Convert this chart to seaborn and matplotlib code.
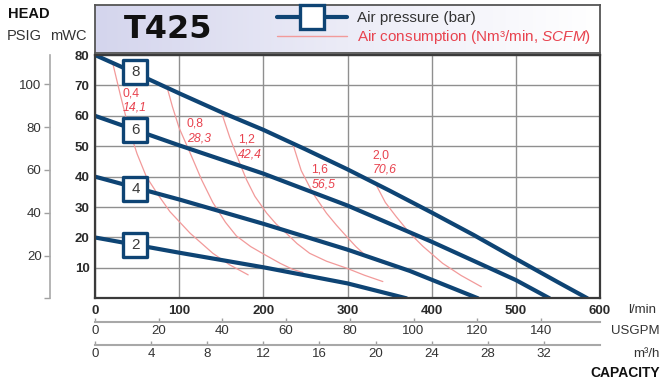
import numpy as np
import pandas as pd
import matplotlib.pyplot as plt
import seaborn as sns
from matplotlib.lines import Line2D
from matplotlib.colors import LinearSegmentedColormap

# ---------------------------
# Data (flow in l/min, head in mWC)
# ---------------------------
pressures = ["2", "4", "6", "8"]
flow_2bar = [0, 100, 200, 300, 370]
head_2bar = [20, 15, 10.2, 4.9, 0]
flow_4bar = [0, 100, 200, 300, 374, 455]
head_4bar = [40, 32.5, 24.5, 16, 9, 0]
flow_6bar = [0, 100, 200, 300, 400, 500, 540]
head_6bar = [60, 50.3, 41, 30.5, 18.6, 6, 0]
flow_8bar = [0, 50, 100, 150, 200, 250, 300, 350, 400, 450, 500, 550, 585]
head_8bar = [80, 73.8, 67.4, 61.2, 55.4, 49, 42.4, 35.4, 28.2, 20.8, 13, 5.3, 0]

# air consumption curves: Nm3/min and SCFM
air_nm3 = ["0,4", "0,8", "1,2", "1,6", "2,0"]
air_scfm = ["14,1", "28,3", "42,4", "56,5", "70,6"]
air_flow_04 = [21.6, 30, 40, 50, 61, 75, 89, 113, 140, 160, 182]
air_head_04 = [76.7, 67, 56, 47.5, 40, 34, 28.5, 21.4, 14.8, 11, 7.7]
air_flow_08 = [85, 92, 100, 112.7, 126.6, 140, 155, 168, 185, 200, 220, 235, 247]
air_head_08 = [70, 63, 56, 48, 39, 31.5, 25, 20.5, 17, 14.6, 11.5, 9.5, 8.5]
air_flow_12 = [150.4, 160, 172, 180, 190, 204, 215, 228, 240, 255, 275, 299, 320, 342]
air_head_12 = [61, 53, 44.4, 39, 33.5, 28, 24.5, 21.2, 18, 14.8, 12.2, 9.9, 7.6, 5.5]
air_flow_16 = [235, 245, 259, 275, 287, 299, 310, 323, 340, 355, 380, 405]
air_head_16 = [50.8, 42, 34.5, 28, 24, 20.3, 17, 13.7, 11.8, 10.6, 8.3, 5.5]
air_flow_20 = [334, 345, 358, 374, 390, 413, 435, 459]
air_head_20 = [37.3, 31.5, 26.8, 21.4, 17, 11.5, 7.5, 3.8]

# axis ticks
lmin_ticks = [0, 100, 200, 300, 400, 500, 600]
mwc_ticks = [10, 20, 30, 40, 50, 60, 70, 80]
psig_ticks = [0, 20, 40, 60, 80, 100]
usgpm_ticks = [0, 20, 40, 60, 80, 100, 120, 140]
m3h_ticks = [0, 4, 8, 12, 16, 20, 24, 28, 32]

# ---------------------------
# Styling
# ---------------------------
BLUE = "#0e4474"
RED_LINE = "#f29a9a"
RED_TEXT = "#e8434f"
GREY_TXT = "#2b2b2b"

sns.set_theme(style="white")
plt.rcParams['font.family'] = ['Liberation Sans', 'DejaVu Sans']
plt.rcParams['mathtext.fontset'] = 'custom'
plt.rcParams['mathtext.rm'] = 'Liberation Sans'
plt.rcParams['mathtext.it'] = 'Liberation Sans:italic'

pump = pd.concat([
    pd.DataFrame({"flow": f, "head": h, "bar": b})
    for b, f, h in zip(pressures,
                       [flow_2bar, flow_4bar, flow_6bar, flow_8bar],
                       [head_2bar, head_4bar, head_6bar, head_8bar])
])
air = pd.concat([
    pd.DataFrame({"flow": f, "head": h, "air": a})
    for a, f, h in zip(air_nm3,
                       [air_flow_04, air_flow_08, air_flow_12, air_flow_16, air_flow_20],
                       [air_head_04, air_head_08, air_head_12, air_head_16, air_head_20])
])

fig = plt.figure(figsize=(6.63, 3.85), dpi=100)
ax = fig.add_axes([95 / 663, 1 - 298.3 / 385, 505 / 663, 243.3 / 385])

sns.lineplot(data=air, x="flow", y="head", units="air", estimator=None, sort=False,
             color=RED_LINE, lw=0.9, ax=ax, legend=False)
sns.lineplot(data=pump, x="flow", y="head", units="bar", estimator=None, sort=False,
             color=BLUE, lw=3, ax=ax, legend=False)

ax.set_xlim(0, 600)
ax.set_ylim(0, 80)
ax.set_xticks(lmin_ticks)
ax.set_yticks(mwc_ticks)
ax.set_xlabel("")
ax.set_ylabel("")
ax.grid(True, color="#8f8f8f", lw=1.0)
ax.set_axisbelow(True)
ax.tick_params(axis="both", length=0, labelsize=9.5, labelcolor=GREY_TXT)
ax.tick_params(axis="x", pad=5)
ax.tick_params(axis="y", pad=4)
plt.setp(ax.get_xticklabels() + ax.get_yticklabels(), fontweight="bold")
for s in ax.spines.values():
    s.set_color("#3a3a3a")
    s.set_linewidth(1.6)

# pressure boxes
box_flow = [48, 48, 48, 48]
box_head = [17.5, 36.1, 55.4, 74.5]
ax.scatter(box_flow, box_head, marker="s", s=300, facecolor="white",
           edgecolor=BLUE, linewidth=2.4, zorder=5)
for x, y, p in zip(box_flow, box_head, pressures):
    ax.text(x, y, p, ha="center", va="center", fontsize=11, color="#3a3a3a", zorder=6)

# air consumption labels
lab_flow = [33, 109, 170, 257, 330]
lab_head = [67.5, 57.5, 52.2, 42.2, 47.1]
for x, y, a, c in zip(lab_flow, lab_head, air_nm3, air_scfm):
    ax.text(x, y, a, color=RED_TEXT, fontsize=8.8, va="center", ha="left")
    ax.text(x, y - 4.9, c, color=RED_TEXT, fontsize=8.8, va="center", ha="left", style="italic")

# secondary capacity scales
usg = ax.secondary_xaxis(-23.7 / 243.3, functions=(lambda q: q / 3.785, lambda g: g * 3.785))
usg.set_xticks(usgpm_ticks)
m3h = ax.secondary_xaxis(-46.7 / 243.3, functions=(lambda q: q * 0.06, lambda m: m / 0.06))
m3h.set_xticks(m3h_ticks)
for sec in (usg, m3h):
    sec.tick_params(direction="in", length=3, width=1, color="#a0a0a0",
                    labelsize=9.5, labelcolor="#333333", pad=2.5)
    sec.spines["bottom"].set_color("#a8a8a8")
    sec.spines["bottom"].set_linewidth(1.5)

# PSIG scale
psi = ax.secondary_yaxis(-45.1 / 505, functions=(lambda h: h * 1.422, lambda p: p / 1.422))
psi.set_yticks(psig_ticks)
psi.set_yticklabels([""] + [str(t) for t in psig_ticks[1:]])
psi.tick_params(direction="out", length=4, width=1, color="#a0a0a0",
                labelsize=9.5, labelcolor="#333333", pad=2)
psi.spines["left"].set_color("#a8a8a8")
psi.spines["left"].set_linewidth(1.2)

# header box with gradient and title
hax = fig.add_axes([95 / 663, 1 - 53 / 385, 505 / 663, 48 / 385])
grad = LinearSegmentedColormap.from_list("hdr", ["#d4d5ed", "#ececf7", "#ffffff"])
hax.imshow(np.linspace(0, 1, 256)[None, :], aspect="auto", cmap=grad, extent=[0, 1, 0, 1])
hax.set_xlim(0, 1)
hax.set_ylim(0, 1)
hax.set_xticks([])
hax.set_yticks([])
for s in hax.spines.values():
    s.set_color("#555555")
    s.set_linewidth(1.3)
hax.text(0.145, 0.5, "T425", ha="center", va="center", fontsize=23,
         fontweight="bold", family="DejaVu Sans", color="#111111")

handles = [Line2D([], [], color=BLUE, lw=3, marker="s", ms=17, mfc="white", mec=BLUE, mew=2.4),
           Line2D([], [], color=RED_LINE, lw=1)]
leg = fig.legend(handles, ["Air pressure (bar)", r"Air consumption (Nm³/min, $\mathit{SCFM}$)"],
                 loc="upper left", bbox_to_anchor=(277 / 663, 1 - 11 / 385), frameon=False,
                 fontsize=11, handlelength=4.6, handletextpad=0.65, labelspacing=0.2,
                 borderpad=0, borderaxespad=0)
leg.get_texts()[0].set_color("#333333")
leg.get_texts()[1].set_color(RED_TEXT)

# axis titles
fig.text(8 / 663, 1 - 14 / 385, "HEAD", fontsize=10.5, fontweight="bold", va="center", color="#111111")
fig.text(7 / 663, 1 - 36 / 385, "PSIG", fontsize=10.5, va="center", color="#333333")
fig.text(50 / 663, 1 - 36 / 385, "mWC", fontsize=10.5, va="center", color="#333333")
fig.text(628 / 663, 1 - 310 / 385, "l/min", fontsize=9.5, va="center", color="#333333")
fig.text(660 / 663, 1 - 331 / 385, "USGPM", fontsize=9.5, va="center", ha="right", color="#333333")
fig.text(660 / 663, 1 - 354 / 385, "m³/h", fontsize=9.5, va="center", ha="right", color="#333333")
fig.text(660 / 663, 1 - 373 / 385, "CAPACITY", fontsize=10, va="center", ha="right",
         fontweight="bold", color="#111111")

fig.savefig("out.png", dpi=100)
